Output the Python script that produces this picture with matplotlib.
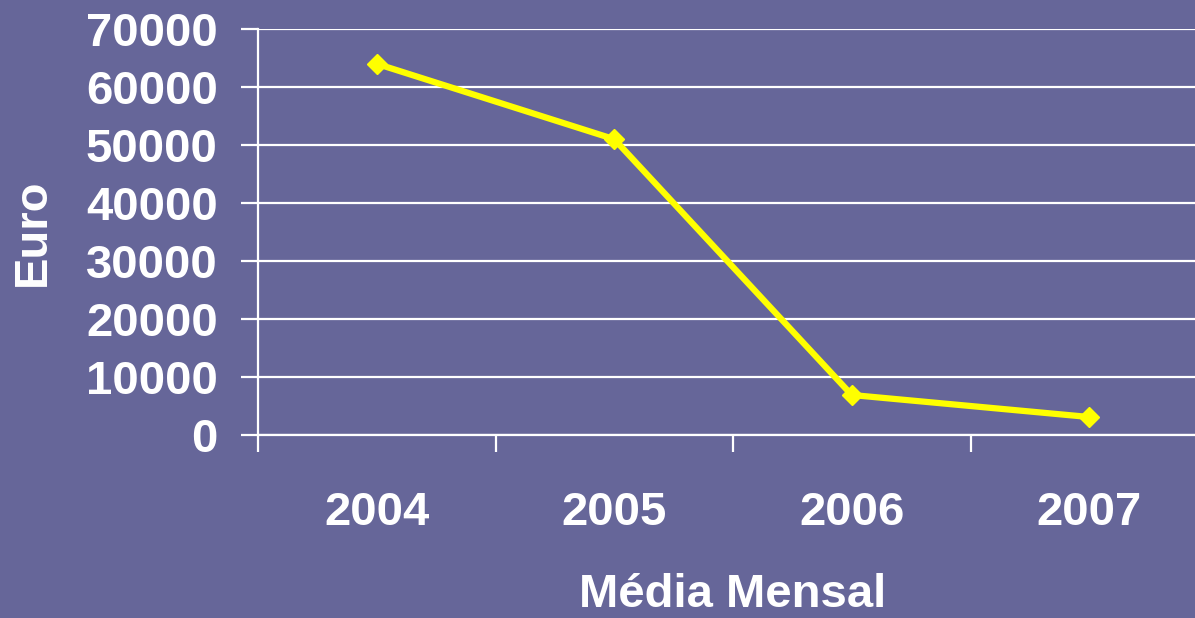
import matplotlib
matplotlib.use("Agg")
import matplotlib.pyplot as plt
from matplotlib.ticker import FixedLocator

years = ["2004", "2005", "2006", "2007"]
values = [64000, 51000, 6900, 3100]
yticks = [0, 10000, 20000, 30000, 40000, 50000, 60000, 70000]

bg = "#666699"
plt.rcParams['font.family'] = ['Liberation Sans', 'DejaVu Sans']
plt.rcParams['font.weight'] = 'bold'

fig = plt.figure(figsize=(11.95, 6.18), dpi=100, facecolor=bg)
ax = fig.add_axes([258/1195, (618-435)/618, (1208-258)/1195, (435-29)/618])
ax.set_facecolor(bg)

x = list(range(len(years)))
ax.plot(x, values, color="#FFFF00", lw=4.5, marker="D", markersize=10, zorder=3, clip_on=False)

ax.set_xlim(-0.5, len(years) - 0.5)
ax.set_ylim(0, 70000)
ax.set_yticks(yticks)
ax.set_yticklabels([str(v) for v in yticks])
ax.yaxis.grid(True, color="white", lw=1.6)
ax.set_axisbelow(True)

fs = 34
ax.set_xticks(x)
ax.set_xticklabels(years)
ax.xaxis.set_minor_locator(FixedLocator([i - 0.5 for i in x]))
ax.tick_params(axis="x", which="major", length=0, pad=40, labelsize=fs, labelcolor="white")
ax.tick_params(axis="x", which="minor", length=12, width=1.6, color="white", direction="out")
ax.tick_params(axis="y", length=12, width=1.6, color="white", pad=17, labelsize=fs, labelcolor="white")

for s in ["top", "right"]:
    ax.spines[s].set_visible(False)
for s in ["left", "bottom"]:
    ax.spines[s].set_color("white")
    ax.spines[s].set_linewidth(1.6)

ax.set_xlabel("Média Mensal", color="white", fontsize=fs, fontweight="bold", labelpad=28)
ax.set_ylabel("Euro", color="white", fontsize=fs, fontweight="bold", labelpad=22)

fig.savefig("out.png", dpi=100, facecolor=bg)
